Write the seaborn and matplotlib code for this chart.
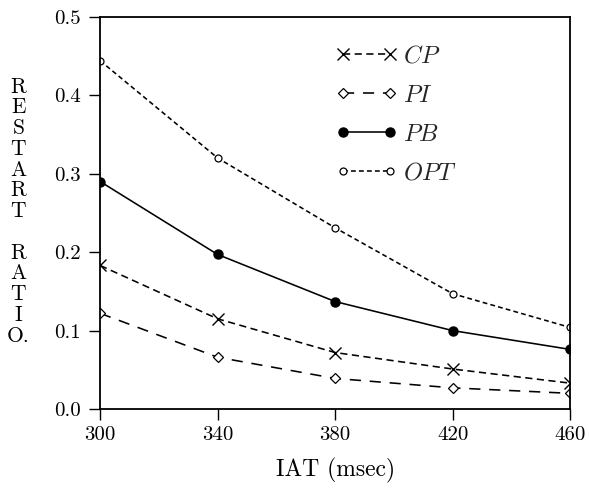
import matplotlib
matplotlib.use("Agg")
import matplotlib.pyplot as plt
import seaborn as sns
import pandas as pd

iat = [300, 340, 380, 420, 460]
cp = [0.183, 0.115, 0.072, 0.051, 0.033]
pi = [0.122, 0.066, 0.039, 0.027, 0.020]
pb = [0.290, 0.197, 0.137, 0.100, 0.076]
opt = [0.444, 0.320, 0.231, 0.147, 0.104]
series_names = ["$CP$", "$PI$", "$PB$", "$OPT$"]
xticks = [300, 340, 380, 420, 460]
yticks = [0.0, 0.1, 0.2, 0.3, 0.4, 0.5]

sns.set_style("ticks")
plt.rcParams["font.family"] = ["cmr10", "DejaVu Serif"]
plt.rcParams["mathtext.fontset"] = "cm"
plt.rcParams["axes.unicode_minus"] = False

fig = plt.figure(figsize=(5.89, 4.94), dpi=100)
ax = fig.add_axes([0.170, 0.172, 0.798, 0.794])

styles = [
    dict(marker="x", ms=8, mew=1.0, mfc="none", dashes=(4.5, 2.8)),
    dict(marker="D", ms=5.5, mew=0.9, mfc="white", dashes=(7, 5.5)),
    dict(marker="o", ms=6.5, mew=1.0, mfc="black", dashes=(None, None)),
    dict(marker="o", ms=5, mew=0.9, mfc="white", dashes=(3, 2)),
]
values = [cp, pi, pb, opt]

for name, vals, st in zip(series_names, values, styles):
    df = pd.DataFrame({"IAT": iat, "ratio": vals})
    kw = dict(marker=st["marker"], markersize=st["ms"], markeredgewidth=st["mew"],
              markerfacecolor=st["mfc"], markeredgecolor="black")
    sns.lineplot(data=df, x="IAT", y="ratio", ax=ax, color="black",
                 linewidth=1.15, label=name, **kw)
for ln, st in zip(ax.get_lines(), styles):
    if st["dashes"][0] is not None:
        ln.set_dashes(st["dashes"])

ax.set_xlim(300, 460)
ax.set_ylim(0, 0.5)
ax.set_xticks(xticks)
ax.set_xticklabels([str(v) for v in xticks])
ax.set_yticks(yticks)
ax.set_yticklabels([f"{v:.1f}" for v in yticks])
ax.tick_params(direction="out", length=8, width=1.0, labelsize=15, color="black",
               labelcolor="black")
ax.tick_params(axis="y", pad=6)
ax.tick_params(axis="x", pad=4)
for s in ax.spines.values():
    s.set_visible(True)
    s.set_linewidth(1.3)
    s.set_color("black")

ax.set_xlabel("IAT (msec)", fontsize=17, labelpad=10, color="black")
ax.set_ylabel("")
fig.text(0.031, 0.572, "R\nE\nS\nT\nA\nR\nT\n\nR\nA\nT\nI\nO.", fontsize=15.5,
         ha="center", va="center", linespacing=1.08, color="black")

leg = ax.legend(loc="upper left", bbox_to_anchor=(0.502, 0.927), frameon=False,
                numpoints=2, handlelength=2.5, handletextpad=0.25, labelspacing=0.7,
                borderpad=0, borderaxespad=0, fontsize=17.5)

fig.savefig("out.png", dpi=100)
